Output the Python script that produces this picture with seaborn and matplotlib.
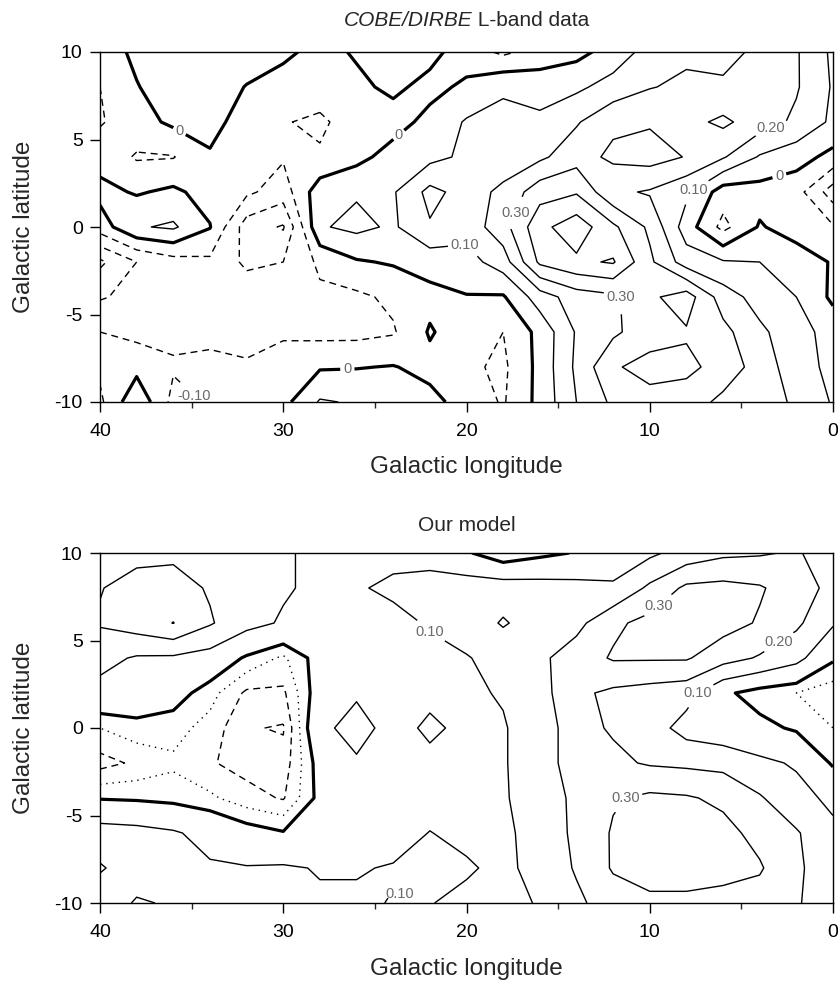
import numpy as np
import matplotlib
matplotlib.use("Agg")
import matplotlib.pyplot as plt
import matplotlib.transforms as mtransforms
import seaborn as sns

# ── Grid (galactic longitude runs 40 -> 0, latitude 10 -> -10) ──────
lon = [40, 38, 36, 34, 32, 30, 28, 26, 24, 22, 20, 18, 16, 14, 12, 10, 8, 6, 4, 2, 0]
lat = [10, 8, 6, 4, 2, 0, -2, -4, -6, -8, -10]

# COBE/DIRBE L-band map, rows = lat, cols = lon
cobe_lband = [
    [-.05, .02, .06, .07, .06, .02, -.03, .01, .05, .03, -.05, -.12, -.06, -.03, .04, .14, .18, .17, .22, .21, .08],
    [-.10, -.005, .05, .06, -.005, -.04, -.06, -.02, .02, -.03, .02, .09, .06, .08, .14, .195, .22, .215, .24, .21, .09],
    [-.11, -.04, .02, .03, -.04, -.095, -.115, -.06, -.04, .03, .11, .12, .12, .19, .28, .29, .27, .32, .25, .18, .08],
    [-.04, -.11, -.105, -.01, -.05, -.09, -.09, -.03, .04, .07, .12, .15, .18, .26, .32, .34, .295, .21, .09, .04, -.03],
    [.03, -.01, .02, -.04, -.08, -.15, .06, .09, .09, .23, .16, .22, .36, .39, .22, .19, .12, -.05, -.04, -.06, -.25],
    [-.05, .09, .115, .005, -.25, -.31, .09, .125, .085, .19, .14, .26, .47, .56, .42, .28, .05, -.13, .01, -.05, -.09],
    [-.32, -.20, -.14, -.12, -.22, -.20, -.08, -.01, .01, .04, .06, .15, .42, .48, .51, .32, .15, .11, .10, .06, -.01],
    [-.21, -.17, -.13, -.13, -.14, -.13, -.12, -.12, -.08, -.03, -.005, -.01, .15, .25, .28, .38, .45, .25, .16, .10, -.02],
    [-.10, -.13, -.12, -.12, -.13, -.12, -.13, -.13, -.11, .01, -.06, -.10, .03, .21, .28, .36, .39, .33, .22, .14, .06],
    [-.08, -.03, -.09, -.08, -.09, -.04, -.01, -.005, .005, -.03, -.08, -.12, .03, .22, .39, .43, .42, .37, .25, .15, .07],
    [-.12, .08, -.13, -.09, -.07, -.03, .11, .09, .07, .03, -.04, -.11, .03, .20, .32, .37, .36, .27, .23, .19, .09],
]

# Model prediction on the same grid
model_lband = [
    [.12, .17, .18, .16, .14, .11, .08, .07, .07, .07, .01, -.055, -.02, .005, .06, .08, .14, .18, .19, .21, .15],
    [.195, .24, .24, .19, .14, .11, .08, .09, .12, .13, .15, .15, .14, .13, .11, .22, .32, .33, .31, .25, .17],
    [.21, .25, .302, .21, .13, .09, .07, .06, .07, .11, .14, .21, .15, .17, .28, .33, .36, .34, .29, .22, .11],
    [.13, .09, .085, .06, -.01, -.06, .03, .06, .05, .07, .095, .13, .18, .25, .31, .31, .31, .24, .19, .13, .01],
    [.07, .05, .03, -.03, -.11, -.11, .04, .09, .07, .08, .08, .11, .19, .22, .18, .16, .14, .015, -.03, -.05, -.08],
    [-.05, -.02, -.03, -.07, -.145, -.155, .08, .13, .07, .115, .08, .09, .17, .23, .19, .15, .06, .03, .02, -.01, -.05],
    [-.12, -.09, -.06, -.095, -.12, -.13, .03, .09, .07, .08, .08, .09, .17, .23, .22, .19, .18, .17, .12, .09, -.01],
    [-.005, -.01, -.02, -.04, -.08, -.105, .02, .06, .06, .07, .08, .09, .15, .22, .29, .32, .31, .28, .21, .13, .08],
    [.14, .13, .11, .07, .03, .005, .06, .07, .07, .102, .08, .08, .14, .22, .31, .34, .35, .33, .27, .21, .12],
    [.21, .15, .14, .11, .105, .11, .095, .095, .105, .12, .11, .08, .13, .21, .31, .34, .34, .33, .31, .22, .13],
    [.14, .21, .19, .14, .13, .12, .11, .11, .097, .103, .08, .08, .105, .18, .25, .28, .28, .27, .26, .21, .14],
]

# ── Style ──────────────────────────────────────────────────────────
sns.set_theme(style="white")
plt.rcParams["font.family"] = ["Liberation Sans", "DejaVu Sans"]
plt.rcParams["axes.unicode_minus"] = False
plt.rcParams["axes.edgecolor"] = "black"
plt.rcParams["axes.linewidth"] = 1.0

DASH = (0, (5, 3.5))
DOT = (0, (1, 3.5))
POS_LEVELS = [0.1, 0.2, 0.3, 0.4, 0.5, 0.6]
TITLE_SIZE = 15


def fmt_level(v):
    return "0" if abs(v) < 1e-9 else f"{v:.2f}"


def draw_panel(ax, z, neg_styles, labels):
    z = np.array(z)
    sets = {}
    for lev, ls in neg_styles.items():
        sets[lev] = ax.contour(lon, lat, z, levels=[lev], colors="black",
                               linewidths=1.0, linestyles=[ls])
    sets[0.0] = ax.contour(lon, lat, z, levels=[0.0], colors="black",
                           linewidths=2.3, linestyles="solid")
    for lev in POS_LEVELS:
        sets[lev] = ax.contour(lon, lat, z, levels=[lev], colors="black",
                               linewidths=1.0, linestyles="solid")
    for lev, pts in labels.items():
        txts = ax.clabel(sets[lev], manual=pts, fmt=fmt_level, inline=True,
                         inline_spacing=3, fontsize=10.5, colors="#6a6a6a")
        for t in txts:
            t.set_rotation(0)

    ax.set_xlim(40, 0)
    ax.set_ylim(-10, 10)
    ax.set_xticks([40, 30, 20, 10, 0])
    ax.set_xticks([35, 25, 15, 5], minor=True)
    ax.set_yticks([-10, -5, 0, 5, 10])
    ax.tick_params(axis="both", which="major", direction="out", length=7,
                   width=1.0, labelsize=14, colors="black", bottom=True, left=True)
    ax.tick_params(axis="x", which="major", pad=8)
    ax.tick_params(axis="y", which="major", pad=5.5)
    ax.tick_params(axis="x", which="minor", direction="out", length=4,
                   width=1.0, bottom=True)
    ax.set_xlabel("Galactic longitude", fontsize=17.5, labelpad=12)
    ax.set_ylabel("Galactic latitude", fontsize=17.5, labelpad=14)
    for s in ax.spines.values():
        s.set_visible(True)
        s.set_color("black")


fig = plt.figure(figsize=(8.38, 9.82), dpi=100)
ax_top = fig.add_axes([100 / 838, 1 - 402 / 982, 733 / 838, 350 / 982])
ax_bot = fig.add_axes([100 / 838, 1 - 903 / 982, 733 / 838, 350 / 982])

draw_panel(ax_top, cobe_lband,
           {-0.4: DASH, -0.3: DASH, -0.2: DASH, -0.1: DASH},
           {0.0: [(35.7, 5.4), (23.8, 5.4), (26.5, -8.2), (3.0, 3.2)],
            -0.1: [(34.8, -9.6)],
            0.1: [(20.1, -0.7), (7.7, 2.3)],
            0.2: [(3.2, 5.2)],
            0.3: [(17.3, 0.8), (11.5, -3.8)]})

draw_panel(ax_bot, model_lband,
           {-0.05: DOT, -0.1: DASH, -0.15: DASH},
           {0.1: [(22.1, 5.3), (7.6, 2.2), (23.8, -9.7)],
            0.2: [(3.2, 5.3)],
            0.3: [(9.3, 6.7), (11.5, -3.8)]})

# titles: the instrument name is set in italics, the rest upright
title_tr = mtransforms.offset_copy(ax_top.transAxes, fig=fig, y=16, units="points")
t1 = ax_top.text(0.508, 1.0, "COBE/DIRBE", transform=title_tr, ha="right",
                 va="bottom", fontsize=TITLE_SIZE, style="italic")
ax_top.annotate(" L-band data", xy=(1, 0), xycoords=t1, ha="left", va="bottom",
                fontsize=TITLE_SIZE)
ax_bot.set_title("Our model", fontsize=TITLE_SIZE, pad=16)

fig.savefig("out.png", dpi=100)
